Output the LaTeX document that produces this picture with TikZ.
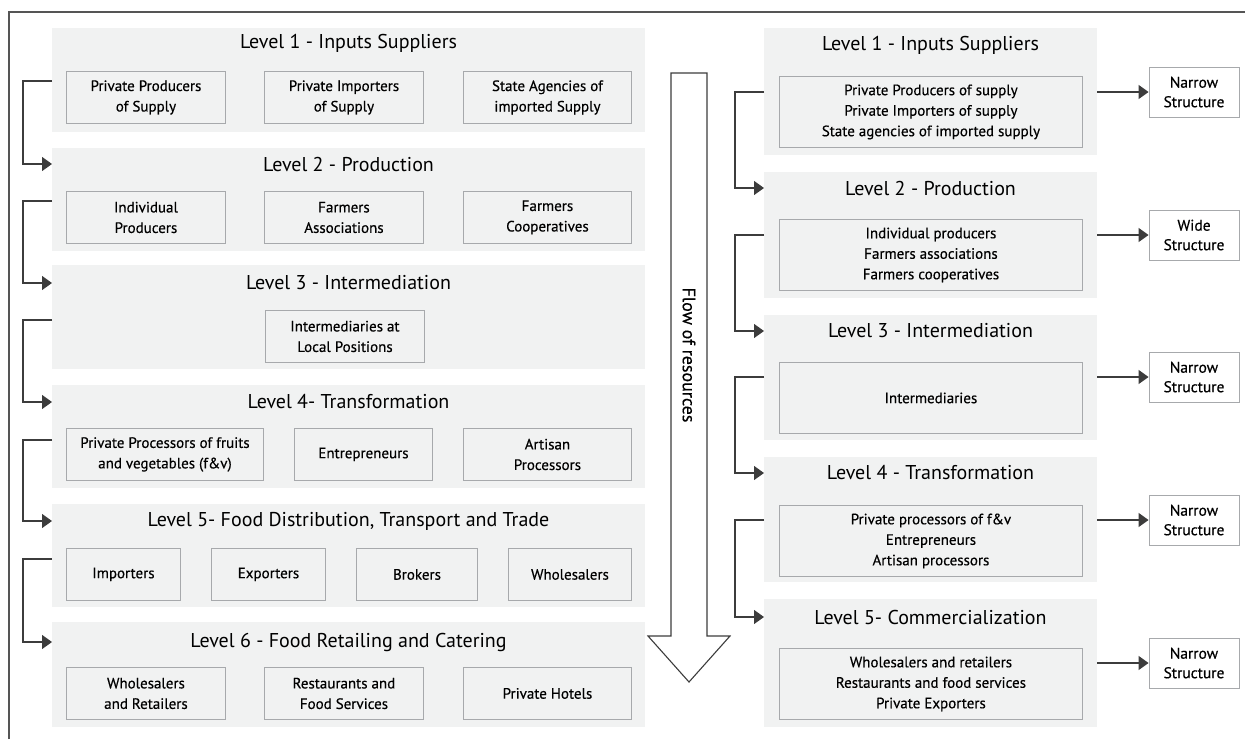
\documentclass[tikz,border=0pt]{standalone}
\usepackage{fontspec}
\setmainfont{PT Sans}
\newfontfamily\boxfont[FakeBold=0.4]{PT Sans}
\usetikzlibrary{arrows.meta}
\definecolor{panelgray}{HTML}{F1F2F2}
\definecolor{boxgray}{HTML}{A7A9AC}
\definecolor{linegray}{HTML}{3C3C3C}
\definecolor{framegray}{HTML}{555555}

\begin{document}
\begin{tikzpicture}[x=1pt,y=-1pt,
  panel/.style={fill=panelgray, inner sep=0pt, anchor=north west},
  title/.style={font=\fontsize{20}{22}\selectfont},
  unit/.style={draw=boxgray, line width=0.9pt, fill=panelgray, align=center,
    inner sep=0pt, anchor=north west, minimum height=52,
    font=\boxfont\fontsize{15}{20.5}\selectfont},
  runit/.style={unit, minimum width=303, minimum height=71},
  structbox/.style={draw=boxgray, line width=0.9pt, fill=white, align=center,
    inner sep=0pt, minimum width=90, minimum height=50,
    font=\boxfont\fontsize{15.5}{19.5}\selectfont},
  conn/.style={draw=linegray, line width=1.3pt},
  arr/.style={conn, -{Triangle[length=10pt,width=14pt]}}]
  \useasboundingbox (0,0) rectangle (1245,739);
  % frame
  \draw[framegray, line width=1.5pt] (9,739) -- (9,12) -- (1245,12);

  % left column: six levels
  \node[panel, minimum width=593, minimum height=104] (L1) at (52,28) {};
  \node[panel, minimum width=593, minimum height=103] (L2) at (52,148) {};
  \node[panel, minimum width=593, minimum height=104] (L3) at (52,265) {};
  \node[panel, minimum width=593, minimum height=103] (L4) at (52,385) {};
  \node[panel, minimum width=593, minimum height=103] (L5) at (52,504) {};
  \node[panel, minimum width=593, minimum height=105] (L6) at (52,622) {};

  \node[title] (T1) at (348.5,43) {Level 1 - Inputs Suppliers};
  \node[title] (T2) at (348.5,164) {Level 2 - Production};
  \node[title] (T3) at (348.5,283) {Level 3 - Intermediation};
  \node[title] (T4) at (348.5,402) {Level 4- Transformation};
  \node[title] (T5) at (348.5,521) {Level 5- Food Distribution, Transport and Trade};
  \node[title] (T6) at (348.5,642) {Level 6 - Food Retailing and Catering};

  \node[unit, minimum width=159] (L1a) at (66,71) {Private Producers\\of Supply};
  \node[unit, minimum width=159] (L1b) at (264,71) {Private Importers\\of Supply};
  \node[unit, minimum width=168] (L1c) at (463,71) {State Agencies of\\imported Supply};

  \node[unit, minimum width=159] (L2a) at (66,191) {Individual\\Producers};
  \node[unit, minimum width=159] (L2b) at (264,191) {Farmers\\Associations};
  \node[unit, minimum width=168] (L2c) at (463,191) {Farmers\\Cooperatives};

  \node[unit, minimum width=159] (L3a) at (265,310) {Intermediaries at\\Local Positions};

  \node[unit, minimum width=197] (L4a) at (66,428) {Private Processors of fruits\\and vegetables (f\&v)};
  \node[unit, minimum width=138] (L4b) at (294,428) {Entrepreneurs};
  \node[unit, minimum width=168] (L4c) at (463,428) {Artisan\\Processors};

  \node[unit, minimum width=114] (L5a) at (66,548) {Importers};
  \node[unit, minimum width=114] (L5b) at (211,548) {Exporters};
  \node[unit, minimum width=121] (L5c) at (356,548) {Brokers};
  \node[unit, minimum width=123] (L5d) at (508,548) {Wholesalers};

  \node[unit, minimum width=159] (L6a) at (66,667) {Wholesalers\\and Retailers};
  \node[unit, minimum width=159] (L6b) at (264,667) {Restaurants and\\Food Services};
  \node[unit, minimum width=168] (L6c) at (463,667) {Private Hotels};

  % left brackets
  \draw[arr] (L1.west |- L1a.north) ++(0,10) -- ++(-29,0) |- (L2.west |- T2);
  \draw[arr] (L2.west |- L2a.north) ++(0,10) -- ++(-29,0) |- (L3.west |- T3);
  \draw[arr] (L3.west |- L3a.north) ++(0,10) -- ++(-29,0) |- (L4.west |- T4);
  \draw[arr] (L4.west |- L4a.north) ++(0,12) -- ++(-29,0) |- (L5.west |- T5);
  \draw[arr] (L5.west |- L5a.north) ++(0,11) -- ++(-29,0) |- (L6.west |- T6);

  % flow arrow
  \draw[linegray, line width=1.1pt, fill=white]
    (671,73) -- (707,73) -- (707,636) -- (730,636) -- (689,682)
    -- (648,636) -- (671,636) -- cycle;
  \node[rotate=-90, font=\boxfont\fontsize{18}{20}\selectfont] (flow) at (689,355) {Flow of resources};

  % right column: five levels
  \node[panel, minimum width=333, minimum height=127] (R1) at (764,28) {};
  \node[panel, minimum width=333, minimum height=126] (R2) at (764,172) {};
  \node[panel, minimum width=333, minimum height=125] (R3) at (764,315) {};
  \node[panel, minimum width=333, minimum height=125] (R4) at (764,457) {};
  \node[panel, minimum width=333, minimum height=128] (R5) at (764,599) {};

  \node[title] (U1) at (930.5,45) {Level 1 - Inputs Suppliers};
  \node[title] (U2) at (930.5,188) {Level 2 - Production};
  \node[title] (U3) at (930.5,331) {Level 3 - Intermediation};
  \node[title] (U4) at (930.5,473) {Level 4 - Transformation};
  \node[title] (U5) at (930.5,617) {Level 5- Commercialization};

  \node[runit] (R1a) at (779,76) {Private Producers of supply\\Private Importers of supply\\State agencies of imported supply};
  \node[runit] (R2a) at (779,219) {Individual producers\\Farmers associations\\Farmers cooperatives};
  \node[runit] (R3a) at (779,362) {Intermediaries};
  \node[runit] (R4a) at (779,505) {Private processors of f\&v\\Entrepreneurs\\Artisan processors};
  \node[runit] (R5a) at (779,648) {Wholesalers and retailers\\Restaurants and food services\\Private Exporters};

  \node[structbox] (S1) at (1194,92) {Narrow\\Structure};
  \node[structbox] (S2) at (1194,235) {Wide\\Structure};
  \node[structbox] (S3) at (1194,377) {Narrow\\Structure};
  \node[structbox] (S4) at (1194,520) {Narrow\\Structure};
  \node[structbox] (S5) at (1194,663) {Narrow\\Structure};

  % right brackets and outputs
  \draw[arr] (R1.west |- S1) -- ++(-29,0) |- (R2.west |- U2);
  \draw[arr] (R2.west |- S2) -- ++(-29,0) |- (R3.west |- U3);
  \draw[arr] (R3.west |- S3) -- ++(-29,0) |- (R4.west |- U4);
  \draw[arr] (R4.west |- S4) -- ++(-29,0) |- (R5.west |- U5);

  \draw[arr] (R1.east |- S1) -- (S1.west);
  \draw[arr] (R2.east |- S2) -- (S2.west);
  \draw[arr] (R3.east |- S3) -- (S3.west);
  \draw[arr] (R4.east |- S4) -- (S4.west);
  \draw[arr] (R5.east |- S5) -- (S5.west);
\end{tikzpicture}
\end{document}
